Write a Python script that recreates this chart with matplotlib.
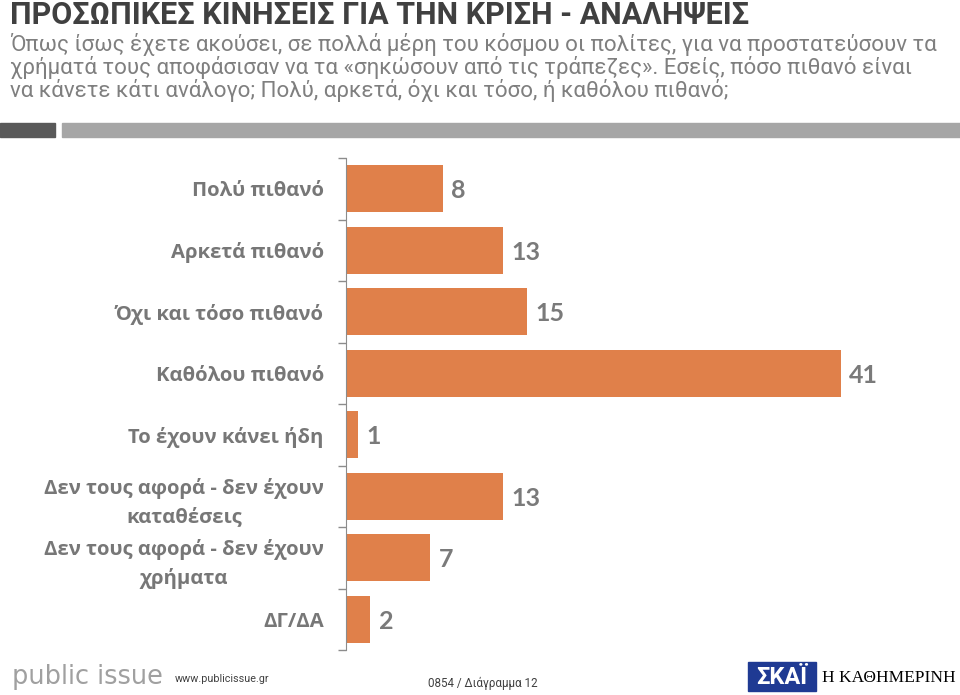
import matplotlib.pyplot as plt
from matplotlib.patches import Rectangle

# data
categories = ["Πολύ πιθανό", "Αρκετά πιθανό", "Όχι και τόσο πιθανό", "Καθόλου πιθανό",
              "Το έχουν κάνει ήδη", "Δεν τους αφορά - δεν έχουν\nκαταθέσεις",
              "Δεν τους αφορά - δεν έχουν\nχρήματα", "ΔΓ/ΔΑ"]
values = [8, 13, 15, 41, 1, 13, 7, 2]

title = "ΠΡΟΣΩΠΙΚΕΣ ΚΙΝΗΣΕΙΣ ΓΙΑ ΤΗΝ ΚΡΙΣΗ - ΑΝΑΛΗΨΕΙΣ"
subtitle = ["Όπως ίσως έχετε ακούσει, σε πολλά μέρη του κόσμου οι πολίτες, για να προστατεύσουν τα",
            "χρήματά τους αποφάσισαν να τα «σηκώσουν από τις τράπεζες». Εσείς, πόσο πιθανό είναι",
            "να κάνετε κάτι ανάλογο; Πολύ, αρκετά, όχι και τόσο, ή καθόλου πιθανό;"]

orange = "#E0804A"
label_grey = "#777777"
value_grey = "#7A7A7A"

fig = plt.figure(figsize=(9.6, 6.95), dpi=100)
W, H = 960, 695

def fx(px):
    return px / W

def fy(py):
    return 1 - py / H

renderer = fig.canvas.get_renderer()

# shrink text horizontally to the width it has in the reference
def fit_text(x, y, s, width_px, size, **kw):
    t = fig.text(fx(x), fy(y), s, fontsize=size, va="center", **kw)
    w = t.get_window_extent(renderer).width
    if w > width_px:
        t.set_fontsize(size * width_px / w)
    return t

# header
fit_text(10, 15, title, 772, 22, fontweight="bold", color="#404040", family="Roboto")
first = fit_text(10, 44, subtitle[0], 938, 16, color="#7F7F7F", family="Roboto")
sub_size = first.get_fontsize()
for i, line in enumerate(subtitle[1:], start=1):
    fig.text(fx(10), fy(44 + i * 23.5), line, fontsize=sub_size, color="#7F7F7F",
             family="Roboto", va="center")
fig.patches.append(Rectangle((0, fy(137)), fx(55), fy(123) - fy(137), transform=fig.transFigure,
                             color="#595959", zorder=0))
fig.patches.append(Rectangle((fx(62), fy(137)), 1 - fx(62), fy(123) - fy(137),
                             transform=fig.transFigure, color="#A6A6A6", zorder=0))

# chart
ax = fig.add_axes([fx(346), fy(650), fx(900) - fx(346), fy(158) - fy(650)])
y = list(range(len(categories)))
ax.barh(y, values, height=0.76, color=orange)
ax.set_ylim(len(categories) - 0.5, -0.5)
ax.set_xlim(0, 554 / 12.07)
for yi, v in zip(y, values):
    ax.text(v + 0.7, yi + 0.03, str(v), va="center", ha="left", fontsize=18, color=value_grey,
            family="Lato", fontweight="bold")

ax.set_yticks(y)
ax.set_yticklabels(categories, fontsize=14.6, fontweight="bold", color=label_grey,
                   family="Open Sans", multialignment="center", linespacing=1.5)
ax.tick_params(axis="y", which="major", length=0, pad=16)
ax.set_yticks([i - 0.5 for i in range(len(categories) + 1)], minor=True)
ax.tick_params(axis="y", which="minor", length=6, color="#8C8C8C", width=1)
ax.set_xticks([])
for s in ["top", "right", "bottom"]:
    ax.spines[s].set_visible(False)
ax.spines["left"].set_color("#8C8C8C")

# footer
fit_text(12, 677, "public issue", 151, 20, color="#A0A0A0", family="DejaVu Sans")
fit_text(175, 679, "www.publicissue.gr", 95, 9, color="#404040", family="Roboto")
fit_text(428, 683, "0854 / Διάγραμμα 12", 110, 9, color="#404040", family="Roboto")
fig.patches.append(Rectangle((fx(748), fy(691)), fx(68), fy(662) - fy(691),
                             transform=fig.transFigure, color="#1F3A93", zorder=1))
fig.text(fx(782), fy(677), "ΣΚΑΪ", fontsize=17, fontweight="bold", color="white",
         family="Roboto", va="center", ha="center", zorder=2)
fit_text(822, 678, "Η ΚΑΘΗΜΕΡΙΝΗ", 133, 17, color="black", family="Liberation Serif")

fig.savefig("out.png", dpi=100)
